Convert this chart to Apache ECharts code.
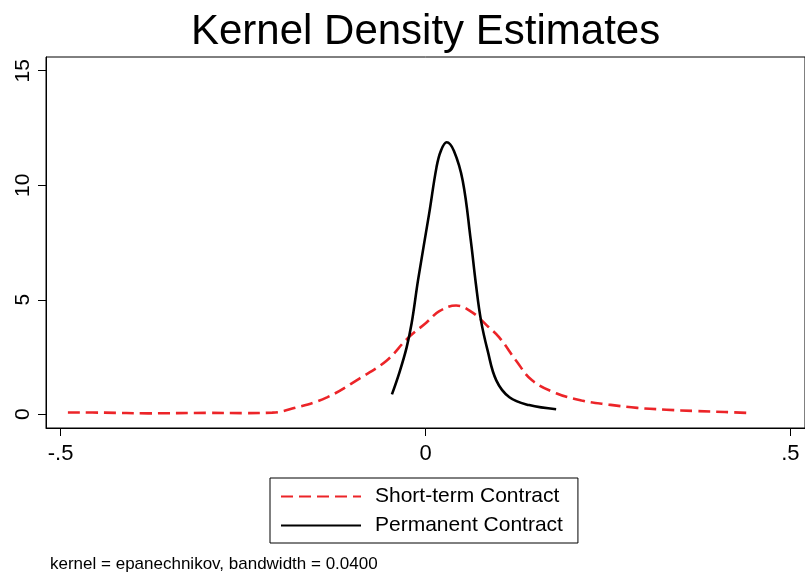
<!DOCTYPE html>
<html>
<head>
<meta charset="utf-8">
<script src="https://cdn.jsdelivr.net/npm/echarts@6/dist/echarts.min.js"></script>
<style>
  html, body { margin: 0; padding: 0; background: #fff; }
  #chart { width: 805px; height: 574px; }
</style>
</head>
<body>
<div id="chart"></div>
<script>
// short-term contract density (red dashed)
const shortX = [-0.49, -0.44, -0.38, -0.30, -0.25, -0.21, -0.18, -0.135, -0.09, -0.053, -0.025, 0.001, 0.019, 0.042, 0.064, 0.085, 0.101, 0.124, 0.146, 0.179, 0.214, 0.251, 0.29, 0.33, 0.37, 0.41, 0.447]
const shortY = [0.08, 0.07, 0.04, 0.06, 0.05, 0.07, 0.27, 0.74, 1.57, 2.35, 3.3, 4.0, 4.5, 4.75, 4.45, 3.85, 3.36, 2.35, 1.48, 0.92, 0.6, 0.42, 0.28, 0.2, 0.14, 0.1, 0.05]

// permanent contract density (black solid)
const permX = [-0.046, -0.036, -0.026, -0.019, -0.01, 0.005, 0.015, 0.021, 0.029, 0.039, 0.051, 0.062, 0.069, 0.076, 0.085, 0.097, 0.115, 0.142, 0.179]
const permY = [0.87, 1.8, 2.9, 3.97, 5.9, 8.76, 10.77, 11.5, 11.88, 11.5, 10.2, 7.6, 5.7, 4.1, 2.8, 1.48, 0.74, 0.4, 0.22]

const xTicks = [-0.5, 0, 0.5]
const yTicks = [0, 5, 10, 15]

const seriesNames = ['Short-term Contract', 'Permanent Contract']

const zip = (xs, ys) => xs.map((x, i) => [x, ys[i]])

const fmtX = v => {
  if (v === 0) return '0'
  const s = String(Math.abs(v)).replace(/^0/, '')
  return (v < 0 ? '-' : '') + s
}

const chart = echarts.init(document.getElementById('chart'))

chart.setOption({
  backgroundColor: '#fff',
  animation: false,
  textStyle: { fontFamily: 'Liberation Sans, Arial, sans-serif' },
  title: [
    {
      text: 'Kernel Density Estimates',
      left: 191,
      top: 11,
      padding: 0,
      textStyle: { fontSize: 42, fontWeight: 'normal', color: '#000' },
    },
    {
      text: 'kernel = epanechnikov, bandwidth = 0.0400',
      left: 50,
      top: 556,
      padding: 0,
      textStyle: { fontSize: 17, fontWeight: 'normal', color: '#000' },
    },
  ],
  grid: {
    left: 46,
    right: 0,
    top: 57,
    bottom: 146,
    show: true,
    borderColor: '#000',
    borderWidth: 1,
  },
  legend: {
    orient: 'vertical',
    left: 270,
    top: 478,
    padding: [8, 15, 7, 10],
    itemGap: 8,
    itemWidth: 80,
    itemHeight: 20,
    borderColor: '#000',
    borderWidth: 1,
    data: seriesNames,
    itemStyle: { opacity: 0 },
    textStyle: { fontSize: 21, color: '#000', padding: [0, 0, 0, 9] },
  },
  xAxis: {
    type: 'value',
    min: -0.52,
    max: 0.52,
    splitLine: { show: false },
    axisLine: { show: true, onZero: false, lineStyle: { color: '#000' } },
    axisTick: { show: true, length: 8, customValues: xTicks, lineStyle: { color: '#000' } },
    axisLabel: {
      customValues: xTicks,
      formatter: fmtX,
      fontSize: 22,
      color: '#000',
      margin: 15,
    },
  },
  yAxis: {
    type: 'value',
    min: -0.6,
    max: 15.6,
    splitLine: { show: false },
    axisLine: { show: true, onZero: false, lineStyle: { color: '#000' } },
    axisTick: { show: true, length: 8, customValues: yTicks, lineStyle: { color: '#000' } },
    axisLabel: {
      customValues: yTicks,
      rotate: 90,
      fontSize: 21,
      color: '#000',
      margin: 12,
    },
  },
  series: [
    {
      name: seriesNames[0],
      type: 'line',
      data: zip(shortX, shortY),
      smooth: 0.4,
      symbol: 'none',
      lineStyle: { color: '#ec2428', width: 2.6, type: [12, 6] },
      itemStyle: { color: '#ec2428' },
    },
    {
      name: seriesNames[1],
      type: 'line',
      data: zip(permX, permY),
      smooth: 0.4,
      symbol: 'none',
      lineStyle: { color: '#000', width: 2.6 },
      itemStyle: { color: '#000' },
    },
  ],
})
</script>
</body>
</html>
